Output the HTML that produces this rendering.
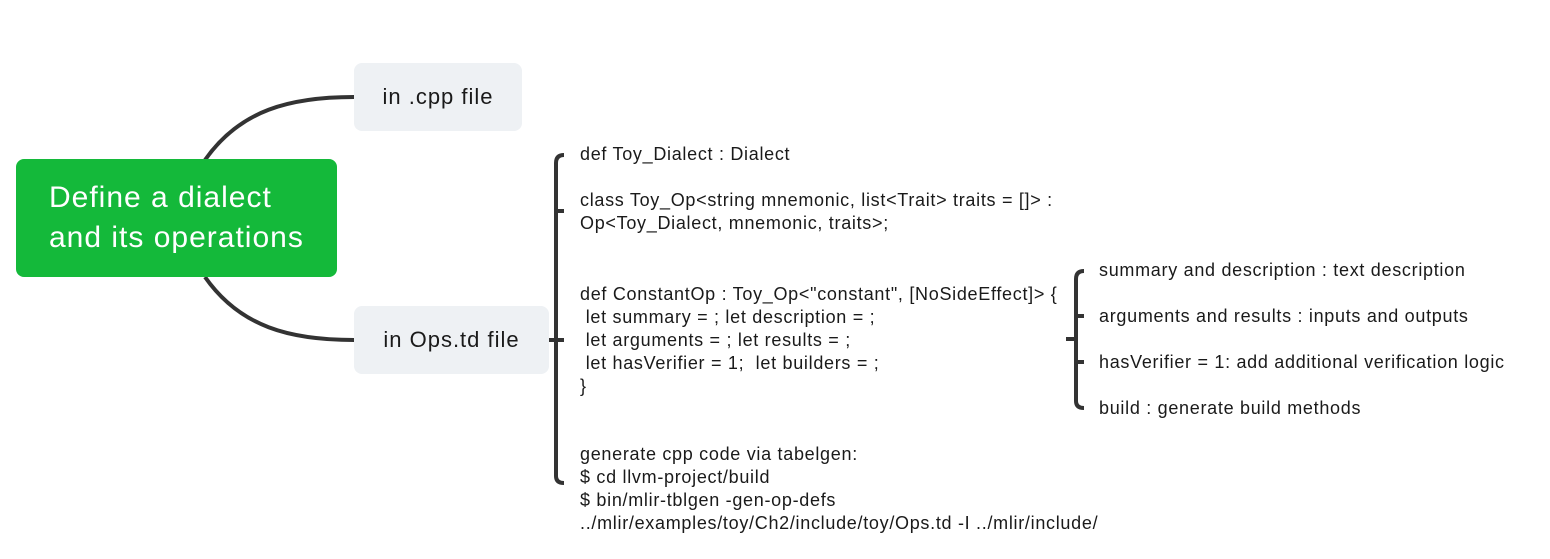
<!DOCTYPE html>
<html><head><meta charset="utf-8"><style>
body{margin:0;width:1550px;height:559px;background:#fff;position:relative;overflow:hidden;font-family:"Liberation Sans",sans-serif;color:#1a1a1a}
.t{position:absolute;font-size:18px;line-height:23px;white-space:pre;letter-spacing:0.7px}
.box{position:absolute;background:#eef1f4;border-radius:8px;font-size:22px;letter-spacing:1px;display:flex;align-items:center;justify-content:center}
</style></head><body>
<svg width="1550" height="559" style="position:absolute;left:0;top:0" fill="none" stroke="#333" stroke-width="4">
<path d="M205 160 C240 110 290 97 354 97"/>
<path d="M205 277 C240 327 290 340 354 340"/>
<path d="M545 340 H556"/>
<path d="M564 155 Q556 155 556 163 V476 Q556 483 564 483"/>
<path d="M556 211 H564"/>
<path d="M556 340 H564"/>
<path d="M1066 339 H1076"/>
<path d="M1084 271 Q1076 271 1076 279 V401 Q1076 408 1084 408"/>
<path d="M1076 316 H1084"/>
<path d="M1076 362 H1084"/>
</svg>
<div class="box" style="left:16px;top:159px;width:321px;height:118px;background:#14b93a;color:#fff;font-size:30px;letter-spacing:1px;line-height:40px;justify-content:flex-start;padding-left:33px;box-sizing:border-box">Define a dialect<br>and its operations</div>
<div class="box" style="left:354px;top:63px;width:168px;height:68px">in .cpp file</div>
<div class="box" style="left:354px;top:306px;width:195px;height:68px">in Ops.td file</div>
<div class="t" style="left:580px;top:143px">def Toy_Dialect : Dialect</div>
<div class="t" style="left:580px;top:189px">class Toy_Op&lt;string mnemonic, list&lt;Trait&gt; traits = []&gt; :
Op&lt;Toy_Dialect, mnemonic, traits&gt;;</div>
<div class="t" style="left:580px;top:283px">def ConstantOp : Toy_Op&lt;"constant", [NoSideEffect]&gt; {
 let summary = ; let description = ;
 let arguments = ; let results = ;
 let hasVerifier = 1;  let builders = ;
}</div>
<div class="t" style="left:580px;top:443px">generate cpp code via tabelgen:
$ cd llvm-project/build
$ bin/mlir-tblgen -gen-op-defs
../mlir/examples/toy/Ch2/include/toy/Ops.td -I ../mlir/include/</div>
<div class="t" style="left:1099px;top:259px">summary and description : text description</div>
<div class="t" style="left:1099px;top:305px">arguments and results : inputs and outputs</div>
<div class="t" style="left:1099px;top:351px">hasVerifier = 1: add additional verification logic</div>
<div class="t" style="left:1099px;top:397px">build : generate build methods</div>
</body></html>
